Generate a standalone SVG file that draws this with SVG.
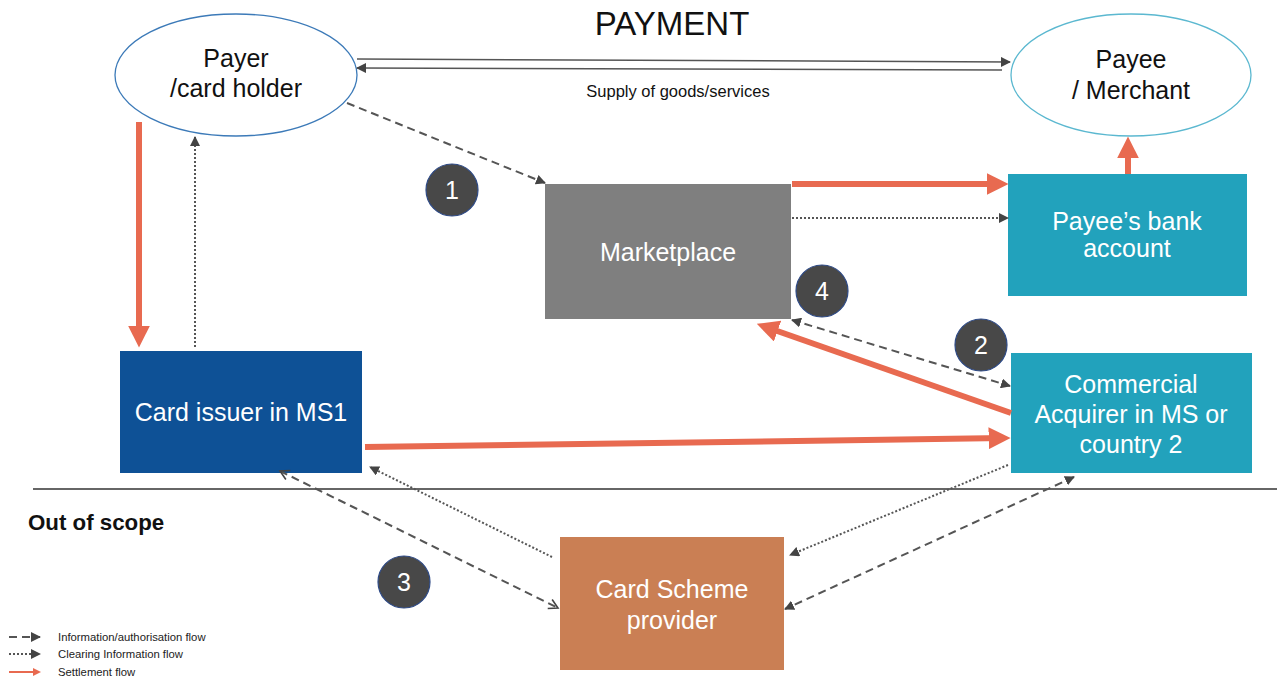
<svg xmlns="http://www.w3.org/2000/svg" width="1277" height="678" viewBox="0 0 1277 678">
<style>
  text { font-family: "Liberation Sans", Arial, sans-serif; }
  .lbl { font-size: 25px; text-anchor: middle; fill: #111; }
  .wlbl { font-size: 25px; text-anchor: middle; fill: #fff; }
  .num { font-size: 25px; text-anchor: middle; fill: #fff; }
  .badge { fill: #484848; stroke: #2E4A86; stroke-width: 1.2; }
  .red { stroke: #E86A50; stroke-width: 6; fill: none; marker-end: url(#redHead); }
  .dash { stroke: #555; stroke-width: 2; fill: none; stroke-dasharray: 8 5; }
  .dot { stroke: #555; stroke-width: 2; fill: none; stroke-dasharray: 2 2; }
  .solid { stroke: #555; stroke-width: 1.5; fill: none; }
  .leg { font-size: 11.3px; fill: #222; }
</style>
<defs>
  <marker id="redHead" markerUnits="userSpaceOnUse" markerWidth="22" markerHeight="22" viewBox="0 0 20 20" refX="14" refY="10" orient="auto">
    <path d="M0,0 L20,10 L0,20 z" fill="#E86A50"/>
  </marker>
  <marker id="gHead" markerUnits="userSpaceOnUse" markerWidth="10" markerHeight="10" viewBox="0 0 10 10" refX="9" refY="5" orient="auto-start-reverse">
    <path d="M0,0 L10,5 L0,10 z" fill="#444"/>
  </marker>
  <marker id="oHead" markerUnits="userSpaceOnUse" markerWidth="12" markerHeight="12" viewBox="0 0 12 12" refX="10" refY="6" orient="auto-start-reverse">
    <path d="M1,1 L10,6 L1,11" fill="none" stroke="#444" stroke-width="1.6"/>
  </marker>
</defs>

<rect width="1277" height="678" fill="#fff"/>

<text x="672" y="35" font-size="33" text-anchor="middle" fill="#111">PAYMENT</text>

<g id="payer">
  <ellipse cx="236" cy="75" rx="121" ry="61" fill="#fff" stroke="#3C7AB8" stroke-width="1.3"/>
  <text class="lbl" x="236" y="67">Payer</text>
  <text class="lbl" x="236" y="97">/card holder</text>
</g>
<g id="payee">
  <ellipse cx="1131" cy="75" rx="120" ry="61" fill="#fff" stroke="#5BB8D0" stroke-width="1.3"/>
  <text class="lbl" x="1131" y="68">Payee</text>
  <text class="lbl" x="1131" y="99">/ Merchant</text>
</g>
<g id="marketplace">
  <rect x="545" y="184" width="246" height="135" fill="#7F7F7F"/>
  <text class="wlbl" x="668" y="261">Marketplace</text>
</g>
<g id="payee-bank">
  <rect x="1008" y="174" width="239" height="122" fill="#22A2BC"/>
  <text class="wlbl" x="1127" y="230" font-size="22">Payee’s bank</text>
  <text class="wlbl" x="1127" y="257" font-size="22">account</text>
</g>
<g id="acquirer">
  <rect x="1011" y="353" width="241" height="120" fill="#22A2BC"/>
  <text class="wlbl" x="1131" y="393">Commercial</text>
  <text class="wlbl" x="1131" y="423">Acquirer in MS or</text>
  <text class="wlbl" x="1131" y="453">country 2</text>
</g>
<g id="card-issuer">
  <rect x="120" y="351" width="242" height="122" fill="#0E5196"/>
  <text class="wlbl" x="241" y="421">Card issuer in MS1</text>
</g>
<g id="card-scheme">
  <rect x="560" y="537" width="224" height="133" fill="#CA7F54"/>
  <text class="wlbl" x="672" y="598">Card Scheme</text>
  <text class="wlbl" x="672" y="629">provider</text>
</g>

<g id="badges">
  <circle class="badge" cx="452" cy="190" r="26"/><text class="num" x="452" y="199">1</text>
  <circle class="badge" cx="822" cy="291" r="26"/><text class="num" x="822" y="300">4</text>
  <circle class="badge" cx="981" cy="345" r="26"/><text class="num" x="981" y="354">2</text>
  <circle class="badge" cx="404" cy="582" r="26"/><text class="num" x="404" y="591">3</text>
</g>

<line x1="33" y1="489" x2="1277" y2="489" stroke="#666" stroke-width="2"/>
<text x="28" y="530" font-size="22.3" font-weight="bold" fill="#111">Out of scope</text>

<g id="connectors">
  <line class="solid" x1="357" y1="59" x2="1010" y2="62" marker-end="url(#gHead)"/>
  <line class="solid" x1="1002" y1="70" x2="357" y2="68" marker-end="url(#gHead)"/>
  <text x="678" y="97" font-size="16.5" text-anchor="middle" fill="#111">Supply of goods/services</text>

  <line class="dash" x1="347" y1="103" x2="545" y2="183" marker-end="url(#gHead)"/>
  <line class="red" x1="792" y1="184" x2="1002" y2="184"/>
  <line class="dot" x1="792" y1="218" x2="1008" y2="218" marker-end="url(#gHead)"/>
  <line class="red" x1="1128" y1="174" x2="1128" y2="143"/>
  <line class="red" x1="139" y1="122" x2="139" y2="341"/>
  <line class="dot" x1="195" y1="347" x2="195" y2="137" marker-end="url(#gHead)"/>
  <line class="dash" x1="792" y1="320" x2="1010" y2="386" marker-start="url(#gHead)" marker-end="url(#gHead)"/>
  <line class="red" x1="1011" y1="413" x2="763" y2="326"/>
  <line class="red" x1="365" y1="447" x2="1004" y2="438"/>
  <line class="dash" x1="280" y1="471" x2="558" y2="608" marker-start="url(#oHead)" marker-end="url(#oHead)"/>
  <line class="dot" x1="552" y1="557" x2="370" y2="467" marker-end="url(#gHead)"/>
  <line class="dot" x1="1008" y1="465" x2="790" y2="555" marker-end="url(#gHead)"/>
  <line class="dash" x1="1074" y1="477" x2="785" y2="609" marker-start="url(#gHead)" marker-end="url(#gHead)"/>
</g>

<g id="legend">
  <line class="dash" x1="9" y1="637" x2="40" y2="637" marker-end="url(#gHead)"/>
  <text class="leg" x="58" y="641">Information/authorisation flow</text>
  <line class="dot" x1="9" y1="654" x2="40" y2="654" marker-end="url(#gHead)"/>
  <text class="leg" x="58" y="658">Clearing Information flow</text>
  <line x1="9" y1="672" x2="34" y2="672" stroke="#E86A50" stroke-width="2"/>
  <path d="M33,668 L41,672 L33,676 z" fill="#E86A50"/>
  <text class="leg" x="58" y="676">Settlement flow</text>
</g>
</svg>
